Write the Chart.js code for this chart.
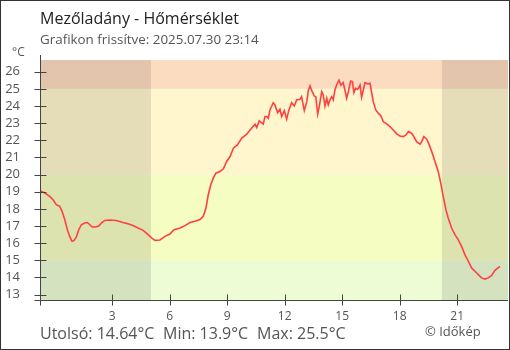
<!DOCTYPE html>
<html>
<head>
<meta charset="utf-8">
<title>Mezőladány - Hőmérséklet</title>
<script src="https://cdn.jsdelivr.net/npm/chart.js@4.4.1/dist/chart.umd.min.js"></script>
<style>
    html, body { margin: 0; padding: 0; background: #fff; }
    #temp-chart { display: block; }
</style>
</head>
<body>
<canvas id="temp-chart" width="510" height="350"></canvas>
<script>(function() { "use strict";

    // readings: hours relative to local midnight (negative = previous evening)
    var hours = [
        -0.77, -0.52, -0.26, -0.09, 0.08, 0.26, 0.38, 0.52, 0.66, 0.78,
        0.90, 1.00, 1.13, 1.25, 1.39, 1.56, 1.70, 1.83, 1.95, 2.12,
        2.30, 2.43, 2.61, 2.87, 3.21, 3.56, 3.82, 4.08, 4.35, 4.61,
        4.87, 5.05, 5.23, 5.49, 5.75, 6.01, 6.22, 6.54, 6.80, 7.06,
        7.32, 7.58, 7.75, 7.89, 8.01, 8.14, 8.27, 8.41, 8.62, 8.80,
        8.97, 9.15, 9.32, 9.53, 9.76, 10.02, 10.19, 10.45, 10.54, 10.67,
        10.88, 10.97, 11.06, 11.14, 11.23, 11.40, 11.49, 11.63, 11.75, 11.84,
        11.98, 12.10, 12.22, 12.36, 12.50, 12.62, 12.80, 12.88, 13.02, 13.15,
        13.23, 13.32, 13.41, 13.54, 13.62, 13.72, 13.80, 13.93, 14.01, 14.10,
        14.19, 14.27, 14.36, 14.45, 14.53, 14.62, 14.71, 14.83, 14.93, 15.05,
        15.14, 15.23, 15.32, 15.44, 15.53, 15.61, 15.70, 15.81, 15.93, 16.01,
        16.10, 16.19, 16.33, 16.45, 16.54, 16.62, 16.75, 16.88, 17.02, 17.14,
        17.32, 17.49, 17.66, 17.84, 18.01, 18.18, 18.33, 18.45, 18.62, 18.74,
        18.88, 19.06, 19.15, 19.26, 19.41, 19.54, 19.67, 19.84, 20.01, 20.14,
        20.27, 20.41, 20.53, 20.71, 20.88, 21.05, 21.23, 21.40, 21.58, 21.75,
        21.93, 22.10, 22.27, 22.45, 22.62, 22.80, 22.97, 23.23
    ];
    var temps = [
        19.05, 18.92, 18.72, 18.53, 18.24, 18.14, 17.85, 17.37, 16.78, 16.39,
        16.10, 16.14, 16.36, 16.78, 17.07, 17.17, 17.20, 17.07, 16.94, 16.94,
        17.00, 17.17, 17.32, 17.35, 17.32, 17.20, 17.13, 17.02, 16.88, 16.74,
        16.49, 16.30, 16.16, 16.18, 16.39, 16.53, 16.78, 16.88, 17.02, 17.20,
        17.27, 17.37, 17.56, 18.05, 18.82, 19.40, 19.79, 20.08, 20.18, 20.33,
        20.76, 21.05, 21.54, 21.73, 22.12, 22.35, 22.60, 22.94, 22.74, 23.13,
        22.94, 23.38, 23.38, 23.28, 23.77, 24.19, 24.06, 23.61, 23.81, 23.38,
        23.73, 23.23, 23.77, 24.19, 24.00, 24.35, 24.39, 24.54, 23.73, 24.25,
        24.89, 25.17, 24.89, 24.58, 24.54, 23.52, 23.96, 24.83, 24.64, 24.00,
        24.45, 24.06, 24.35, 24.54, 24.35, 24.93, 25.22, 25.50, 25.22, 25.36,
        24.93, 24.45, 24.83, 25.45, 25.42, 24.78, 25.03, 24.97, 25.22, 24.51,
        24.93, 25.36, 25.28, 25.32, 24.74, 24.25, 23.77, 23.58, 23.42, 23.09,
        22.95, 22.80, 22.60, 22.37, 22.25, 22.21, 22.31, 22.51, 22.41, 22.21,
        21.92, 21.77, 21.92, 22.21, 22.06, 21.73, 21.34, 20.76, 20.18, 19.50,
        18.72, 17.95, 17.46, 16.88, 16.49, 16.20, 15.81, 15.33, 14.94, 14.55,
        14.36, 14.16, 13.97, 13.90, 13.97, 14.11, 14.41, 14.64
    ];

    var xTickValues = [3, 6, 9, 12, 15, 18, 21];
    var yTickValues = [13, 14, 15, 16, 17, 18, 19, 20, 21, 22, 23, 24, 25, 26];

    // temperature zones (lower, upper, colour); null = open end
    var zoneFrom   = [null, 15, 20, 25];
    var zoneTo     = [15, 20, 25, null];
    var zoneColors = ['#eefcd6', '#f5fdc3', '#fff6cd', '#fcdcc0'];

    // darkness before sunrise and after sunset
    var nightFrom = [null, 20.2];
    var nightTo   = [5.02, null];

    var xMin = -0.77, xMax = 23.65;
    var yMin = 12.68, yMax = 26.68;

    var titleText = 'Mezőladány - Hőmérséklet';
    var updatedText = 'Grafikon frissítve: 2025.07.30 23:14';
    var creditText = '© Időkép';

    var FONT = "'Open Sans', sans-serif";
    Chart.defaults.font.family = FONT;

    var points = hours.map(function(h, i) { return { x: h, y: temps[i] }; });

    var last = temps[temps.length - 1];
    var tMin = Math.min.apply(null, temps);
    var tMax = Math.max.apply(null, temps);

    var zonesPlugin = {
        id: 'zones',
        beforeDatasetsDraw: function(chart) {
            var ctx = chart.ctx, area = chart.chartArea;
            var xs = chart.scales.x, ys = chart.scales.y;
            ctx.save();
            ctx.beginPath();
            ctx.rect(area.left, area.top, area.right - area.left, area.bottom - area.top);
            ctx.clip();
            zoneColors.forEach(function(c, i) {
                var top = zoneTo[i] === null ? area.top : ys.getPixelForValue(zoneTo[i]);
                var bot = zoneFrom[i] === null ? area.bottom : ys.getPixelForValue(zoneFrom[i]);
                ctx.fillStyle = c;
                ctx.fillRect(area.left, top, area.right - area.left, bot - top);
            });
            ctx.fillStyle = 'rgba(0, 0, 0, 0.1)';
            nightFrom.forEach(function(f, i) {
                var l = f === null ? area.left : xs.getPixelForValue(f);
                var r = nightTo[i] === null ? area.right : xs.getPixelForValue(nightTo[i]);
                ctx.fillRect(l, area.top, r - l, area.bottom - area.top);
            });
            ctx.restore();
        }
    };

    // axis lines, crossing tick marks, captions and frame
    var decorPlugin = {
        id: 'decor',
        afterDraw: function(chart) {
            var ctx = chart.ctx, area = chart.chartArea;
            var xs = chart.scales.x, ys = chart.scales.y;
            var ax = Math.round(area.left) + 0.5;
            var ay = Math.round(area.bottom) + 0.5;
            ctx.save();
            ctx.strokeStyle = '#444';
            ctx.lineWidth = 1;
            ctx.beginPath();
            ctx.moveTo(ax, area.top - 5);
            ctx.lineTo(ax, ay + 5);
            ctx.moveTo(ax - 6, ay);
            ctx.lineTo(area.right, ay);
            yTickValues.forEach(function(v) {
                var py = Math.round(ys.getPixelForValue(v)) + 0.5;
                ctx.moveTo(ax - 6, py);
                ctx.lineTo(ax + 6, py);
            });
            xTickValues.forEach(function(v) {
                var px = Math.round(xs.getPixelForValue(v)) + 0.5;
                ctx.moveTo(px, ay - 6);
                ctx.lineTo(px, ay + 5);
            });
            ctx.stroke();

            ctx.textBaseline = 'alphabetic';
            ctx.textAlign = 'left';
            ctx.fillStyle = '#222';
            ctx.font = '16px ' + FONT;
            ctx.fillText(titleText, 40, 24);
            ctx.fillStyle = '#555';
            ctx.font = '13.4px ' + FONT;
            ctx.fillText(updatedText, 40, 44);
            ctx.font = '12px ' + FONT;
            ctx.fillText('°C', 12, 56);

            ctx.font = '16px ' + FONT;
            ctx.fillText('Utolsó: ' + last.toFixed(2) + '°C', 40, 339);
            ctx.fillText('Min: ' + tMin.toFixed(1) + '°C', 163, 339);
            ctx.fillText('Max: ' + tMax.toFixed(1) + '°C', 257, 339);
            ctx.font = '13px ' + FONT;
            ctx.fillText(creditText, 425, 336);

            ctx.strokeStyle = '#333';
            ctx.strokeRect(0.5, 0.5, chart.width - 1, chart.height - 1);
            ctx.restore();
        }
    };

    new Chart(document.getElementById('temp-chart'), {
        type: 'line',
        data: {
            datasets: [{
                label: 'Hőmérséklet',
                data: points,
                borderColor: '#ff4040',
                borderWidth: 1.6,
                pointRadius: 0,
                tension: 0,
                fill: false
            }]
        },
        options: {
            responsive: false,
            animation: false,
            layout: { padding: { top: 60, right: 2, left: 0, bottom: 0 } },
            plugins: {
                legend: { display: false },
                tooltip: { enabled: false }
            },
            scales: {
                x: {
                    type: 'linear',
                    min: xMin,
                    max: xMax,
                    afterFit: function(s) { s.height = 50; },
                    afterBuildTicks: function(s) {
                        s.ticks = xTickValues.map(function(v) { return { value: v }; });
                    },
                    ticks: {
                        color: '#555',
                        font: { size: 12 },
                        padding: 9,
                        maxRotation: 0,
                        autoSkip: false,
                        callback: function(v) { return String(v); }
                    },
                    grid: { display: false, drawTicks: false },
                    border: { display: false }
                },
                y: {
                    type: 'linear',
                    min: yMin,
                    max: yMax,
                    afterFit: function(s) { s.width = 40; },
                    afterBuildTicks: function(s) {
                        s.ticks = yTickValues.map(function(v) { return { value: v }; });
                    },
                    ticks: {
                        color: '#555',
                        font: { size: 13 },
                        padding: 20,
                        autoSkip: false,
                        callback: function(v) { return String(v); }
                    },
                    grid: { display: false, drawTicks: false },
                    border: { display: false }
                }
            }
        },
        plugins: [zonesPlugin, decorPlugin]
    });

})();</script>
</body>
</html>
